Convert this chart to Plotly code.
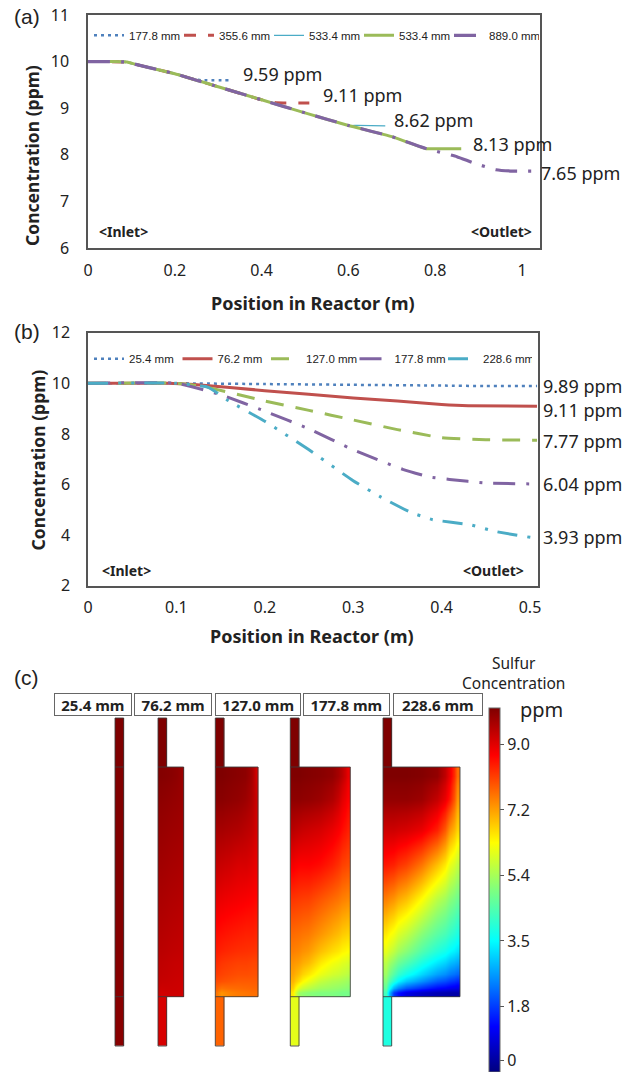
import plotly.graph_objects as go

W, H = 637, 1072

# ---------- panel (a) data ----------
a_x = [0, 0.05, 0.09, 0.11, 0.2, 0.3, 0.4, 0.5, 0.6, 0.7, 0.78]
a_y = [10, 10, 9.99, 9.94, 9.74, 9.46, 9.18, 8.9, 8.63, 8.39, 8.13]
a1_tail_x = [0.24, 0.26, 0.33]
a1_tail_y = [9.63, 9.6, 9.6]
a2_tail_x = [0.43, 0.45, 0.51]
a2_tail_y = [9.12, 9.11, 9.11]
a3_tail_x = [0.62, 0.685]
a3_tail_y = [8.63, 8.62]
a4_tail_x = [0.8, 0.86]
a4_tail_y = [8.13, 8.13]
a5_tail_x = [0.8, 0.85, 0.89, 0.94, 0.98, 1.025]
a5_tail_y = [8.08, 7.96, 7.82, 7.68, 7.65, 7.65]
a_names = ["177.8 mm", "355.6 mm", "533.4 mm", "533.4 mm", "889.0 mm"]
a_labels = ["9.59 ppm", "9.11 ppm", "8.62 ppm", "8.13 ppm", "7.65 ppm"]
a_label_x = [0.352, 0.536, 0.701, 0.882, 1.04]
a_label_y = [9.74, 9.28, 8.74, 8.24, 7.62]

# ---------- panel (b) data ----------
b_names = ["25.4 mm", "76.2 mm", "127.0 mm", "177.8 mm", "228.6 mm"]
b1_x = [0, 0.1, 0.2, 0.3, 0.4, 0.45, 0.508]
b1_y = [10, 10, 9.97, 9.94, 9.91, 9.89, 9.89]
b2_x = [0, 0.09, 0.12, 0.2, 0.3, 0.35, 0.4, 0.43, 0.508]
b2_y = [10, 10, 9.95, 9.71, 9.42, 9.3, 9.16, 9.11, 9.09]
b3_x = [0, 0.1, 0.13, 0.2, 0.25, 0.3, 0.35, 0.4, 0.45, 0.508]
b3_y = [10, 10, 9.88, 9.3, 8.93, 8.55, 8.17, 7.85, 7.77, 7.75]
b4_x = [0, 0.1, 0.15, 0.2, 0.25, 0.3, 0.356, 0.386, 0.409, 0.45, 0.508]
b4_y = [10, 10, 9.55, 8.9, 8.2, 7.37, 6.6, 6.3, 6.2, 6.06, 6.02]
b5_x = [0, 0.1, 0.136, 0.159, 0.2, 0.25, 0.3, 0.33, 0.365, 0.39, 0.432, 0.46, 0.501, 0.508]
b5_y = [10, 10, 9.84, 9.31, 8.5, 7.37, 6.15, 5.53, 4.9, 4.61, 4.41, 4.15, 3.91, 3.9]
b_labels = ["9.89 ppm", "9.11 ppm", "7.77 ppm", "6.04 ppm", "3.93 ppm"]
b_label_x = 0.513
b_label_y = [9.9, 8.94, 7.73, 6.02, 3.91]

# ---------- panel (c) data ----------
c_names = ["25.4 mm", "76.2 mm", "127.0 mm", "177.8 mm", "228.6 mm"]
c_inlet = [10, 10, 10, 10, 10]
c_outlet = [9.9, 9.11, 7.77, 6.04, 3.93]
col_edges = [0, 0.08, 0.2, 0.4, 0.6, 0.8, 0.92, 1]
row_edges = [0, 0.08, 0.2, 0.35, 0.5, 0.65, 0.8, 0.9, 0.96, 1]
body_1 = [[9.97] * 7, [9.97] * 7, [9.96] * 7, [9.95] * 7, [9.94] * 7, [9.93] * 7, [9.92] * 7, [9.91] * 7, [9.9] * 7]
body_2 = [
    [9.95, 9.95, 9.93, 9.9, 9.85, 9.75, 9.7],
    [9.85, 9.85, 9.83, 9.8, 9.77, 9.73, 9.7],
    [9.75, 9.75, 9.73, 9.7, 9.68, 9.65, 9.62],
    [9.65, 9.65, 9.63, 9.6, 9.58, 9.55, 9.53],
    [9.55, 9.55, 9.53, 9.5, 9.48, 9.45, 9.44],
    [9.45, 9.45, 9.43, 9.4, 9.38, 9.35, 9.34],
    [9.35, 9.35, 9.33, 9.3, 9.28, 9.27, 9.26],
    [9.3, 9.28, 9.27, 9.25, 9.23, 9.22, 9.2],
    [9.2, 9.15, 9.18, 9.2, 9.2, 9.18, 9.15],
]
body_3 = [
    [10, 10, 9.95, 9.9, 9.85, 9.6, 9.1],
    [9.9, 9.9, 9.85, 9.8, 9.7, 9.5, 9.2],
    [9.6, 9.6, 9.55, 9.5, 9.4, 9.3, 9.1],
    [9.3, 9.25, 9.2, 9.1, 9.1, 9.0, 8.9],
    [8.95, 8.9, 8.85, 8.8, 8.75, 8.7, 8.65],
    [8.6, 8.55, 8.5, 8.45, 8.4, 8.4, 8.35],
    [8.3, 8.2, 8.15, 8.1, 8.1, 8.05, 8.05],
    [8.0, 7.95, 7.9, 7.85, 7.85, 7.85, 7.85],
    [7.6, 7.3, 7.45, 7.55, 7.6, 7.65, 7.65],
]
body_4 = [
    [10, 10, 9.95, 9.9, 9.8, 9.4, 8.9],
    [9.85, 9.85, 9.8, 9.7, 9.5, 9.0, 8.7],
    [9.4, 9.3, 9.2, 9.1, 8.9, 8.6, 8.4],
    [8.8, 8.7, 8.7, 8.6, 8.4, 8.1, 8.0],
    [8.2, 8.15, 8.1, 7.9, 7.7, 7.5, 7.4],
    [7.7, 7.65, 7.55, 7.3, 7.05, 6.8, 6.7],
    [7.3, 7.2, 6.95, 6.5, 6.2, 6.0, 5.9],
    [7.0, 6.6, 6.1, 5.7, 5.5, 5.4, 5.3],
    [6.5, 5.3, 5.1, 5.0, 5.0, 4.9, 4.9],
]
body_5 = [
    [10, 10, 10, 9.95, 9.8, 8.9, 7.7],
    [9.8, 9.8, 9.8, 9.7, 9.3, 8.5, 7.3],
    [9.2, 9.2, 9.1, 8.9, 8.4, 7.3, 6.7],
    [8.5, 8.4, 8.1, 7.6, 6.9, 6.1, 5.7],
    [7.5, 7.3, 6.9, 6.3, 5.6, 5.1, 4.8],
    [6.5, 6.2, 5.7, 5.1, 4.6, 4.2, 3.9],
    [5.6, 5.1, 4.5, 3.9, 3.4, 3.0, 2.8],
    [5.0, 4.0, 3.1, 2.6, 2.1, 1.8, 1.6],
    [4.3, 1.8, 1.0, 0.7, 0.5, 0.4, 0.4],
]
bodies = [body_1, body_2, body_3, body_4, body_5]
cbar_ticks = [9.0, 7.2, 5.4, 3.6, 1.8, 0.32]
cbar_labels = ["9.0", "7.2", "5.4", "3.5", "1.8", "0"]

# ---------- layout constants (pixels of the page) ----------
A_BOX = (88, 540, 15, 248)
B_BOX = (88, 537.5, 332.7, 585.7)
A_RANGE_X, A_RANGE_Y = [0, 1.0415], [6, 11]
B_RANGE_X, B_RANGE_Y = [0, 0.5085], [2, 12]
C_LEFT = [115, 158, 215.3, 290.3, 383]
C_BODY_W = [8.7, 25.7, 42.7, 60, 77]
C_PIPE_W = 8.7
C_Y = (718, 767, 996.7, 1046)
C_LABEL_BOX = [(54, 131.7), (133.7, 212), (214.3, 300.7), (302.7, 389.3), (392.7, 482.3)]

BLUE, RED, GREEN, PURPLE, CYAN = "#4f81bd", "#c0504d", "#9bbb59", "#8064a2", "#4bacc6"
DOT = "3px,4px"
DD = "22px,11px,3px,11px"
DDD = "20px,10px,3px,10px,3px,10px"
FONT = "Noto Sans"
TXT = "#222222"
JET = [[0, "#00007f"], [0.125, "#0000ff"], [0.36, "#00ffff"], [0.5, "#7fff7f"],
       [0.63, "#ffff00"], [0.87, "#ff0000"], [1, "#7f0000"]]


def px(x):
    return x / W


def py(y):
    return 1 - y / H


def data_to_paper(x, y, box, rx, ry):
    return (px(box[0] + (x - rx[0]) / (rx[1] - rx[0]) * (box[1] - box[0])),
            py(box[3] - (y - ry[0]) / (ry[1] - ry[0]) * (box[3] - box[2])))


fig = go.Figure()

# panel (a)
a_series = [
    (a_x[:5] + a1_tail_x, a_y[:5] + a1_tail_y, BLUE, 2.5, DOT),
    (a_x[:7] + a2_tail_x, a_y[:7] + a2_tail_y, RED, 3, "12px,12px"),
    (a_x[:9] + a3_tail_x, a_y[:9] + a3_tail_y, CYAN, 1.3, "solid"),
    (a_x + a4_tail_x, a_y + a4_tail_y, GREEN, 3, "solid"),
    (a_x + a5_tail_x, a_y + a5_tail_y, PURPLE, 3.2, DD),
]
for name, (xs, ys, c, w, d) in zip(a_names, a_series):
    fig.add_trace(go.Scatter(x=xs, y=ys, name=name, mode="lines", xaxis="x", yaxis="y", legend="legend",
                             line=dict(color=c, width=w, dash=d, shape="spline", smoothing=0.4)))

# panel (b)
b_series = [
    (b1_x, b1_y, BLUE, 2.5, DOT),
    (b2_x, b2_y, RED, 3, "solid"),
    (b3_x, b3_y, GREEN, 3, "18px,12px"),
    (b4_x, b4_y, PURPLE, 3, DD),
    (b5_x, b5_y, CYAN, 3, DDD),
]
for name, (xs, ys, c, w, d) in zip(b_names, b_series):
    fig.add_trace(go.Scatter(x=xs, y=ys, name=name, mode="lines", xaxis="x2", yaxis="y2", legend="legend2",
                             line=dict(color=c, width=w, dash=d, shape="spline", smoothing=0.4)))


# panel (c)
def field(x0, w, y0, y1, z):
    fig.add_trace(go.Heatmap(x=[x0 + e * w for e in col_edges],
                             y=[y0 + e * (y1 - y0) for e in row_edges],
                             z=z, coloraxis="coloraxis", zsmooth="best", xaxis="x3", yaxis="y3",
                             hoverinfo="skip"))


def flat(x0, w, y0, y1, v):
    fig.add_trace(go.Heatmap(x=[x0, x0 + w], y=[y0, y1], z=[[v]], coloraxis="coloraxis",
                             xaxis="x3", yaxis="y3", hoverinfo="skip", zsmooth=False))


for i in range(5):
    x0, bw = C_LEFT[i], C_BODY_W[i]
    flat(x0, C_PIPE_W, C_Y[0], C_Y[1], c_inlet[i])
    field(x0, bw, C_Y[1], C_Y[2], bodies[i])
    flat(x0, C_PIPE_W, C_Y[2], C_Y[3], c_outlet[i])
    ox = [x0, x0 + C_PIPE_W, x0 + C_PIPE_W, x0 + bw, x0 + bw, x0 + C_PIPE_W, x0 + C_PIPE_W, x0, x0, None,
          x0, x0 + C_PIPE_W, None, x0, x0 + C_PIPE_W]
    oy = [C_Y[0], C_Y[0], C_Y[1], C_Y[1], C_Y[2], C_Y[2], C_Y[3], C_Y[3], C_Y[0], None,
          C_Y[1], C_Y[1], None, C_Y[2], C_Y[2]]
    fig.add_trace(go.Scatter(x=ox, y=oy, mode="lines", xaxis="x3", yaxis="y3", showlegend=False,
                             hoverinfo="skip", line=dict(color="rgba(60,60,60,0.85)", width=1)))


def axis(dom, rng, ticks, labels, standoff, anchor):
    return dict(domain=dom, range=rng, tickmode="array", tickvals=ticks, ticktext=labels, showgrid=False,
                zeroline=False, showline=True, mirror=True, linecolor="#555555", linewidth=1.5, ticks="",
                anchor=anchor, ticklabelstandoff=standoff, tickfont=dict(family=FONT, size=16, color=TXT))


a_xticks, a_xlab = [0, 0.2, 0.4, 0.6, 0.8, 1], ["0", "0.2", "0.4", "0.6", "0.8", "1"]
a_yticks, a_ylab = [6, 7, 8, 9, 10, 11], ["6", "7", "8", "9", "10", "11"]
b_xticks, b_xlab = [0, 0.1, 0.2, 0.3, 0.4, 0.5], ["0", "0.1", "0.2", "0.3", "0.4", "0.5"]
b_yticks, b_ylab = [2, 4, 6, 8, 10, 12], ["2", "4", "6", "8", "10", "12"]

ax_x = [px(A_BOX[0]), px(A_BOX[1])]
ax_y = [py(A_BOX[3]), py(A_BOX[2])]
bx_x = [px(B_BOX[0]), px(B_BOX[1])]
bx_y = [py(B_BOX[3]), py(B_BOX[2])]


def legend(y, entry):
    return dict(orientation="h", x=px(89), y=py(y), xanchor="left", yanchor="middle", bgcolor="rgba(0,0,0,0)",
                font=dict(family="Liberation Sans", size=11.5, color=TXT), itemwidth=30,
                entrywidth=entry, entrywidthmode="pixels", tracegroupgap=0)


ann = []


def text(x, y, s, size=15, bold=False, xanchor="center", angle=0, family=FONT):
    ann.append(dict(x=x, y=y, xref="paper", yref="paper", text=f"<b>{s}</b>" if bold else s, showarrow=False,
                    xanchor=xanchor, yanchor="middle", textangle=angle,
                    font=dict(family=family, size=size, color=TXT)))


text(px(12), py(16), "(a)", 21, xanchor="left", family="Liberation Sans")
text(px(12), py(332), "(b)", 21, xanchor="left", family="Liberation Sans")
text(px(12), py(677), "(c)", 21, xanchor="left", family="Liberation Sans")

text(px(313), py(302.7), "Position in Reactor (m)", 18, True)
text(px(312), py(635.7), "Position in Reactor (m)", 18, True)
text(px(32), py(156), "Concentration (ppm)", 17.5, True, angle=-90)
text(px(37.5), py(460), "Concentration (ppm)", 17.5, True, angle=-90)

for s, x, y in zip(a_labels, a_label_x, a_label_y):
    xp, yp = data_to_paper(x, y, A_BOX, A_RANGE_X, A_RANGE_Y)
    text(xp, yp, s, 18, xanchor="left")
for s, y in zip(b_labels, b_label_y):
    xp, yp = data_to_paper(b_label_x, y, B_BOX, B_RANGE_X, B_RANGE_Y)
    text(xp, yp, s, 18, xanchor="left")

text(px(97), py(231), "&lt;Inlet&gt;", 14, True, xanchor="left")
text(px(534), py(231), "&lt;Outlet&gt;", 14, True, xanchor="right")
text(px(100), py(570), "&lt;Inlet&gt;", 14, True, xanchor="left")
text(px(526), py(570), "&lt;Outlet&gt;", 14, True, xanchor="right")

for s, (x0, x1) in zip(c_names, C_LABEL_BOX):
    ann.append(dict(x=px((x0 + x1) / 2), y=py(704.5), xref="paper", yref="paper", text=f"<b>{s}</b>",
                    showarrow=False, xanchor="center", yanchor="middle", width=x1 - x0 - 2, height=21,
                    bgcolor="white", bordercolor="#666666", borderwidth=1, borderpad=0,
                    font=dict(family=FONT, size=15, color=TXT)))

text(px(513), py(672.5), "Sulfur<br>Concentration", 15.5)
text(px(518), py(709), "ppm", 20, xanchor="left")

fig.update_layout(
    width=W, height=H, margin=dict(l=0, r=0, t=0, b=0, autoexpand=False), paper_bgcolor="white",
    plot_bgcolor="rgba(0,0,0,0)",
    xaxis=axis(ax_x, A_RANGE_X, a_xticks, a_xlab, 7, "y"),
    yaxis=axis(ax_y, A_RANGE_Y, a_yticks, a_ylab, 14, "x"),
    xaxis2=axis(bx_x, B_RANGE_X, b_xticks, b_xlab, 6, "y2"),
    yaxis2=axis(bx_y, B_RANGE_Y, b_yticks, b_ylab, 13, "x2"),
    xaxis3=dict(domain=[0, 1], range=[0, W], visible=False, anchor="y3"),
    yaxis3=dict(domain=[0, 1], range=[H, 0], visible=False, anchor="x3"),
    legend=legend(35.3, 45),
    legend2=legend(358.7, 43.5),
    coloraxis=dict(cmin=0, cmax=10, colorscale=JET, colorbar=dict(
        x=px(489), xanchor="left", y=0, yanchor="bottom", len=364 / H, lenmode="fraction",
        thickness=11, thicknessmode="pixels", xpad=0, ypad=0, outlinecolor="#666666", outlinewidth=1,
        tickmode="array", tickvals=cbar_ticks, ticktext=cbar_labels, ticks="outside", ticklen=4,
        tickcolor="#555555", ticklabeloverflow="allow",
        tickfont=dict(family=FONT, size=16, color=TXT))),
    annotations=ann,
    showlegend=True,
)

fig.write_html("out.html", config=dict(displayModeBar=False),
               post_script="document.body.style.margin='0';document.body.style.overflow='hidden';")
